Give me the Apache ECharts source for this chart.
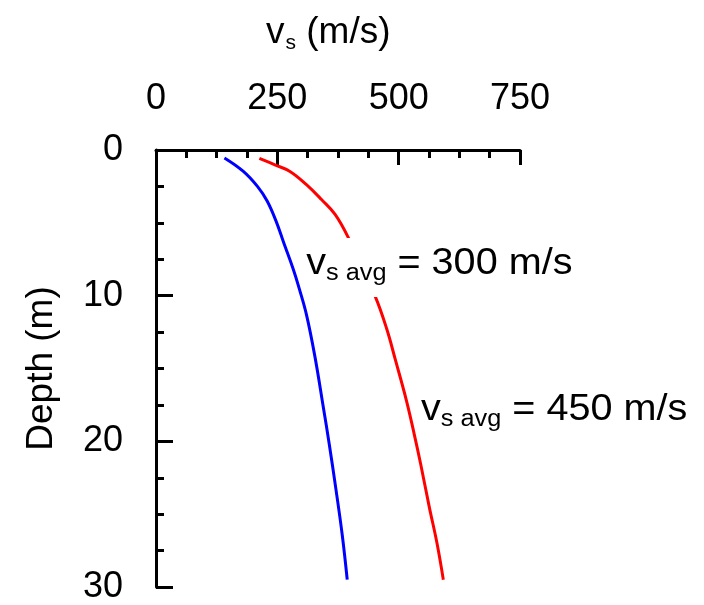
<!DOCTYPE html>
<html>
<head>
<meta charset="utf-8">
<script src="https://cdn.jsdelivr.net/npm/echarts@6/dist/echarts.min.js"></script>
<style>
  html, body { margin: 0; padding: 0; background: #fff; }
  #chart { width: 704px; height: 605px; }
</style>
</head>
<body>
<div id="chart"></div>
<script>
// shear wave velocity profiles (vs in m/s vs depth in m)
const blueVs    = [141, 180, 209, 229, 247, 263, 283, 295, 310, 327, 344, 357, 371, 384, 394];
const blueDepth = [0.55, 1.47, 2.5, 3.5, 4.85, 6.35, 8.2, 9.5, 11.3, 14.1, 17.5, 20.2, 23.35, 26.5, 29.5];
const redVs     = [213, 245, 276, 310, 341, 369, 396, 451, 475, 494, 516, 532, 545, 563, 579, 592];
const redDepth  = [0.57, 1.02, 1.47, 2.38, 3.4, 4.42, 6.0, 10.0, 12.24, 14.5, 17.2, 19.5, 21.5, 24.5, 27.0, 29.5];
const xTicks = [0, 250, 500, 750];
const yTicks = [0, 10, 20, 30];

const FONT = '"Liberation Sans", Arial, sans-serif';

function pairs(xs, ys) {
  return xs.map((v, i) => [v, ys[i]]);
}

function annotation(avg) {
  return '{v|v}{sub|s avg}{main| = ' + avg + ' m/s}';
}
const annoRich = {
  v: { fontSize: 36, fontFamily: FONT, color: '#000', lineHeight: 44 },
  sub: { fontSize: 23, fontFamily: FONT, color: '#000', lineHeight: 24, padding: [19, 0, 0, 0] },
  main: { fontSize: 36, fontFamily: FONT, color: '#000', lineHeight: 44 }
};

const chart = echarts.init(document.getElementById('chart'));
const option = {
  animation: false,
  backgroundColor: '#fff',
  title: {
    text: '{v|v}{s|s}{t| (m/s)}',
    left: 261,
    top: 7,
    textStyle: {
      fontWeight: 'normal',
      rich: {
        v: { fontSize: 37, fontFamily: FONT, fontWeight: 'normal', color: '#000', lineHeight: 42 },
        s: { fontSize: 21, fontFamily: FONT, fontWeight: 'normal', color: '#000', lineHeight: 20, padding: [20, 0, 0, 1] },
        t: { fontSize: 37, fontFamily: FONT, fontWeight: 'normal', color: '#000', lineHeight: 42 }
      }
    }
  },
  grid: { left: 156, top: 150, width: 364, height: 441 },
  xAxis: {
    type: 'value',
    position: 'top',
    min: xTicks[0],
    max: xTicks[xTicks.length - 1],
    interval: 250,
    splitLine: { show: false },
    axisLine: { show: true, lineStyle: { color: '#000', width: 3 } },
    axisTick: { show: true, inside: true, length: 15, lineStyle: { color: '#000', width: 3 } },
    minorTick: { show: true, splitNumber: 4, length: 8, lineStyle: { color: '#000', width: 3 } },
    axisLabel: { fontSize: 36, fontFamily: FONT, color: '#000', margin: 33 }
  },
  yAxis: {
    type: 'value',
    inverse: true,
    min: yTicks[0],
    max: yTicks[yTicks.length - 1],
    interval: 10,
    name: 'Depth (m)',
    nameLocation: 'middle',
    nameRotate: 90,
    nameGap: 96,
    nameTextStyle: { fontSize: 37, fontFamily: FONT, color: '#000' },
    splitLine: { show: false },
    axisLine: { show: true, lineStyle: { color: '#000', width: 3 } },
    axisTick: { show: true, inside: true, length: 17, lineStyle: { color: '#000', width: 3 } },
    minorTick: { show: true, splitNumber: 4, length: 8, lineStyle: { color: '#000', width: 3 } },
    axisLabel: { fontSize: 36, fontFamily: FONT, color: '#000', margin: 33 }
  },
  graphic: [
    {
      type: 'text',
      left: 304,
      top: 238,
      scaleX: 1.1,
      z: 100,
      style: {
        text: annotation(300),
        rich: annoRich,
        backgroundColor: '#fff',
        padding: [4, 2, 11, 2]
      }
    },
    {
      type: 'text',
      left: 421,
      top: 389,
      scaleX: 1.1,
      z: 100,
      style: {
        text: annotation(450),
        rich: annoRich
      }
    }
  ],
  series: [
    {
      type: 'line',
      data: pairs(blueVs, blueDepth),
      showSymbol: false,
      smooth: 0.4,
      lineStyle: { color: '#0000ff', width: 3 },
      z: 2
    },
    {
      type: 'line',
      data: pairs(redVs, redDepth),
      showSymbol: false,
      smooth: 0.4,
      lineStyle: { color: '#ff0000', width: 3 },
      z: 2
    }
  ]
};
chart.setOption(option);
</script>
</body>
</html>
